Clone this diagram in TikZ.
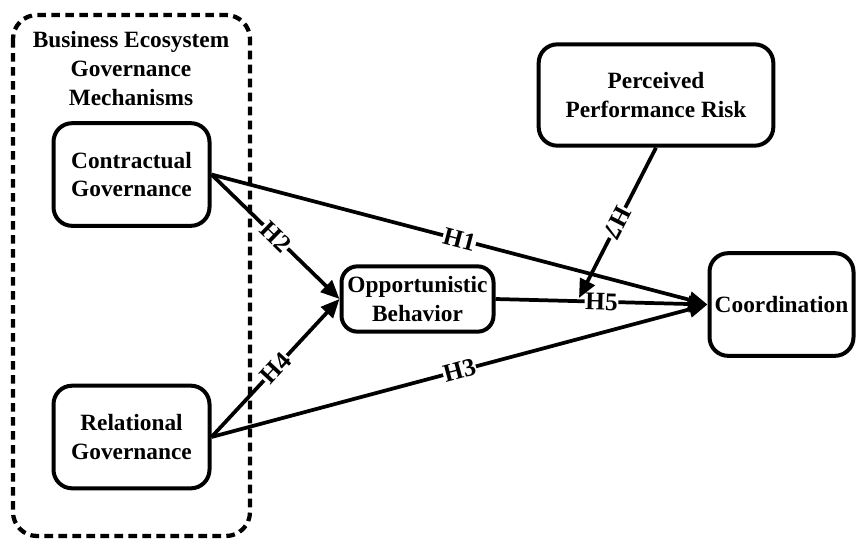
\documentclass[tikz,border=0pt]{standalone}
\usepackage{fontspec}
\setmainfont{Liberation Serif}
\usetikzlibrary{arrows.meta}

\begin{document}
\begin{tikzpicture}[x=0.75pt, y=-0.75pt,
    box/.style={draw, line width=3pt, rounded corners=14pt, align=center, inner sep=0pt,
        font=\fontsize{17.5}{21.5}\selectfont\bfseries},
    hyp/.style={line width=2.8pt, -{Triangle[length=14pt,width=12pt]}},
    hlabel/.style={fill=white, inner sep=0.5pt, sloped, font=\fontsize{19}{20}\selectfont\bfseries}]
    \useasboundingbox (0,0) rectangle (857,540);

    \draw[line width=3.2pt, dash pattern=on 6.5pt off 4pt, rounded corners=18pt] (13,15) rectangle (250,536);
    \node[align=center, font=\fontsize{17.5}{21.75}\selectfont\bfseries] (title) at (131,69) {Business Ecosystem\\Governance\\Mechanisms};

    \node[box, minimum width=117pt, minimum height=77pt] (contract) at (131.5,174.5) {Contractual\\Governance};
    \node[box, minimum width=117pt, minimum height=77pt] (relation) at (131.5,437) {Relational\\Governance};
    \node[box, minimum width=114pt, minimum height=49pt, rounded corners=12pt] (opport) at (417.5,299) {Opportunistic\\Behavior};
    \node[box, minimum width=176pt, minimum height=76pt] (risk) at (656,95) {Perceived\\Performance Risk};
    \node[box, minimum width=108pt, minimum height=77pt] (coord) at (781.5,304.5) {Coordination};
    \coordinate (meet) at (579,298);

    \draw[hyp] (contract.east) -- node[hlabel] {H1} (coord.west);
    \draw[hyp] (contract.east) -- node[hlabel] {H2} (opport.west);
    \draw[hyp] (relation.east) -- node[hlabel] {H3} (coord.west);
    \draw[hyp] (relation.east) -- node[hlabel] {H4} (opport.west);
    \draw[hyp] (opport.east) -- node[hlabel, pos=0.5] {H5} (coord.west);
    \draw[hyp] (risk.south) -- node[hlabel, allow upside down] {H7} (meet);
\end{tikzpicture}
\end{document}
